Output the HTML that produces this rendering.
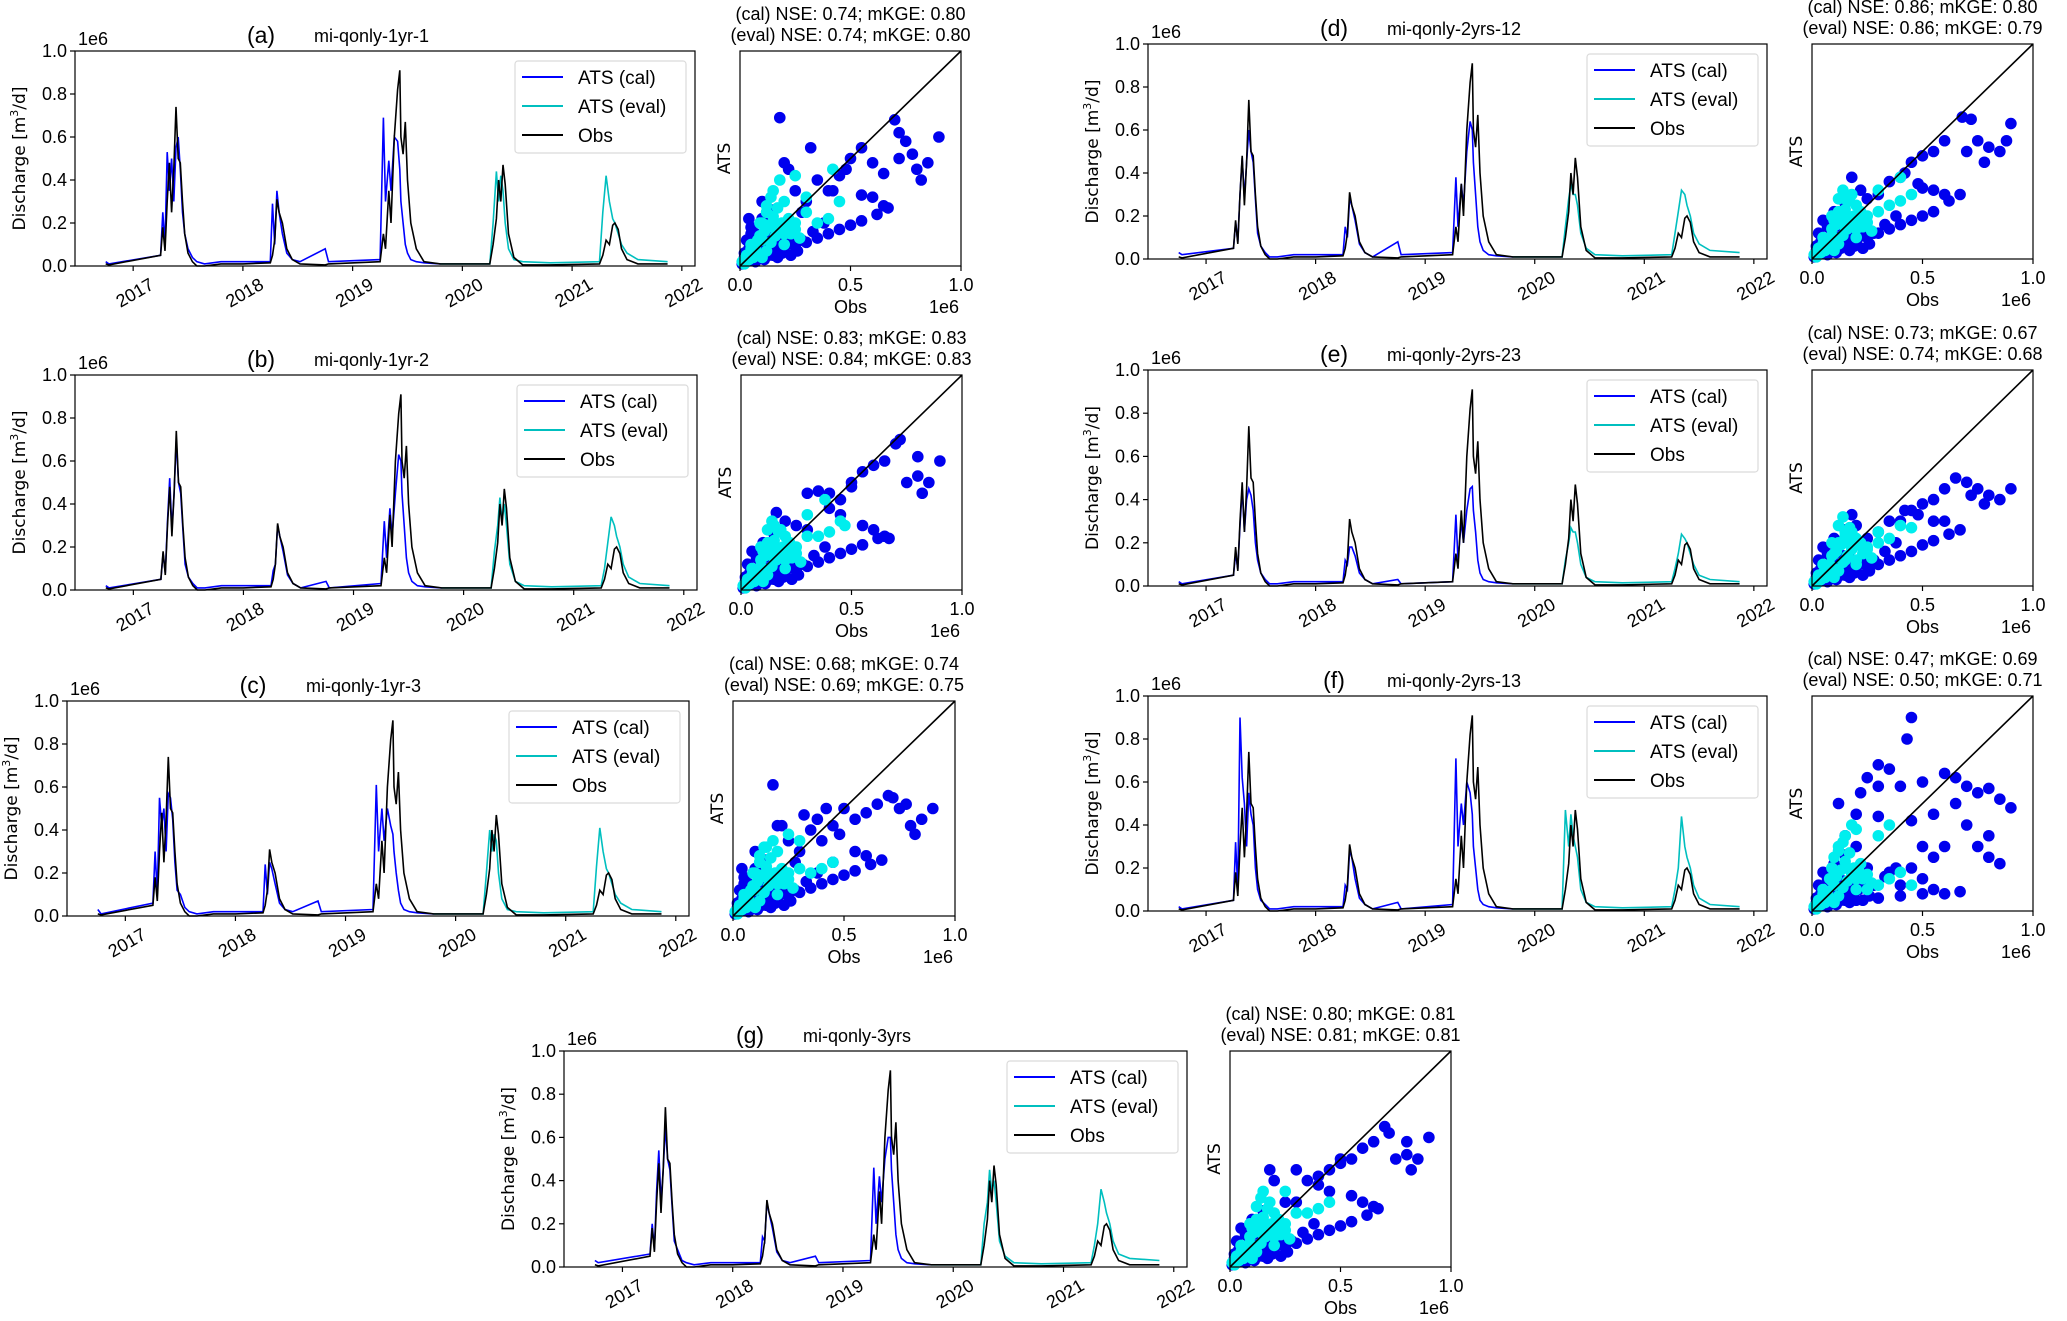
<!DOCTYPE html>
<html><head><meta charset="utf-8">
<style>
html,body{margin:0;padding:0;background:#fff;}
svg text{font-family:"Liberation Sans Narrow","Liberation Sans",sans-serif;}
.dv{font-family:"DejaVu Sans","Liberation Sans",sans-serif !important;}
</style></head>
<body>
<svg id="fig" xmlns="http://www.w3.org/2000/svg" width="2067" height="1316" viewBox="0 0 2067 1316"></svg>
<script>
// ---- shared time axis and observed series (x1e6 m3/d) ----
const years = [2017,2018,2019,2020,2021,2022];
const yTicks = [0.0,0.2,0.4,0.6,0.8,1.0];
const sTicks = [0.0,0.5,1.0];
const evalStart = 2019.8;
const T = [2016.75,2016.78,2017.25,2017.27,2017.29,2017.31,2017.33,2017.35,2017.37,2017.39,2017.41,2017.43,2017.45,2017.47,2017.50,2017.54,2017.58,2017.65,2017.8,2018.0,
2018.25,2018.27,2018.29,2018.31,2018.33,2018.36,2018.40,2018.45,2018.52,2018.75,2018.78,
2019.25,2019.28,2019.30,2019.33,2019.35,2019.38,2019.41,2019.43,2019.44,2019.46,2019.48,2019.50,2019.53,2019.58,2019.65,2019.8,
2020.25,2020.28,2020.31,2020.33,2020.35,2020.37,2020.39,2020.42,2020.47,2020.55,2020.8,
2021.25,2021.28,2021.31,2021.34,2021.37,2021.39,2021.42,2021.45,2021.5,2021.6,2021.87];
const obs = [.01,.005,.05,.18,.07,.3,.48,.25,.45,.74,.5,.48,.3,.15,.06,.02,.0,.0,.01,.01,
.015,.05,.12,.31,.25,.2,.08,.03,.01,.005,.01,
.02,.15,.08,.35,.2,.6,.82,.91,.6,.52,.67,.4,.2,.08,.02,.01,
.01,.1,.22,.4,.3,.47,.38,.15,.04,.005,.005,
.01,.05,.12,.1,.19,.2,.17,.08,.03,.01,.01];
// ---- simulated series per panel ----
const atsA = [.02,.01,.05,.25,.1,.53,.35,.5,.3,.55,.6,.45,.25,.15,.08,.04,.02,.01,.02,.02,
.02,.29,.1,.35,.25,.15,.06,.03,.02,.08,.02,
.03,.69,.3,.49,.35,.6,.58,.45,.3,.2,.1,.06,.03,.02,.015,.01,
.01,.2,.44,.3,.42,.35,.2,.08,.03,.02,.015,
.02,.25,.42,.3,.22,.2,.15,.1,.06,.03,.02];
const atsB = [.02,.01,.05,.17,.08,.32,.52,.28,.45,.7,.5,.45,.28,.12,.06,.03,.01,.01,.02,.02,
.02,.09,.12,.3,.25,.18,.07,.03,.01,.04,.01,
.03,.32,.15,.38,.25,.45,.63,.6,.45,.3,.15,.08,.04,.02,.015,.01,
.01,.18,.3,.43,.32,.4,.3,.12,.04,.02,.015,
.02,.1,.22,.34,.3,.25,.2,.12,.06,.03,.02];
const atsC = [.03,.01,.06,.3,.1,.55,.42,.5,.3,.57,.55,.45,.25,.12,.1,.04,.02,.01,.02,.02,
.02,.24,.1,.25,.22,.15,.06,.03,.02,.07,.02,
.03,.61,.3,.5,.35,.5,.42,.38,.3,.2,.12,.06,.03,.02,.015,.01,
.01,.2,.4,.3,.38,.35,.2,.08,.03,.02,.015,
.02,.23,.41,.3,.22,.2,.15,.1,.06,.03,.02];
const atsD = [.03,.02,.05,.17,.08,.3,.47,.28,.45,.6,.5,.45,.28,.12,.06,.03,.01,.01,.02,.02,
.02,.15,.1,.28,.25,.18,.07,.03,.01,.08,.02,
.03,.38,.15,.35,.25,.5,.64,.6,.45,.3,.15,.08,.04,.02,.015,.01,
.01,.15,.28,.35,.3,.3,.25,.12,.05,.02,.015,
.02,.12,.22,.32,.3,.25,.2,.12,.07,.04,.03];
const atsE = [.02,.01,.05,.15,.08,.28,.45,.25,.4,.45,.42,.35,.2,.12,.06,.03,.01,.01,.02,.02,
.02,.12,.1,.18,.18,.14,.06,.03,.01,.03,.01,
.02,.33,.12,.3,.2,.35,.45,.46,.35,.25,.12,.06,.03,.02,.015,.01,
.01,.12,.2,.27,.25,.25,.2,.1,.04,.02,.015,
.02,.08,.15,.24,.22,.2,.15,.1,.05,.03,.02];
const atsF = [.02,.01,.05,.32,.1,.9,.62,.5,.3,.55,.45,.4,.2,.1,.05,.03,.01,.01,.02,.02,
.02,.12,.1,.28,.25,.15,.06,.03,.01,.04,.01,
.03,.71,.3,.5,.4,.6,.55,.45,.3,.2,.1,.05,.03,.02,.015,.01,
.01,.47,.3,.45,.35,.3,.25,.1,.04,.02,.015,
.02,.1,.2,.44,.3,.25,.2,.12,.06,.03,.02];
const atsG = [.03,.02,.06,.2,.08,.35,.54,.3,.45,.65,.5,.45,.28,.12,.08,.03,.02,.01,.02,.02,
.02,.14,.12,.3,.25,.18,.07,.03,.02,.05,.02,
.03,.46,.2,.42,.3,.5,.6,.6,.45,.3,.15,.08,.04,.02,.015,.01,
.01,.2,.3,.45,.35,.4,.3,.12,.05,.02,.015,
.02,.1,.2,.36,.3,.25,.2,.12,.06,.04,.03];
// ---- scatter points [obs, ats] per panel (x1e6) ----
const lowCal = [[.01,.01],[.02,.04],[.03,.02],[.04,.08],[.05,.03],[.06,.06],[.07,.02],[.08,.05],[.09,.12],[.1,.08],[.11,.03],[.12,.1],[.13,.05],[.14,.14],[.16,.09],[.17,.04],[.18,.12],[.19,.06],[.21,.1],[.23,.05],[.24,.13],[.26,.07],[.28,.12],[.03,.12],[.05,.18],[.07,.15],[.1,.22],[.13,.2],[.15,.26],[.02,.06],[.33,.16],[.38,.2]];
const lowEv = [[.01,.02],[.02,.01],[.03,.05],[.04,.03],[.05,.1],[.06,.04],[.07,.09],[.08,.06],[.09,.14],[.1,.04],[.11,.16],[.12,.07],[.13,.19],[.14,.11],[.15,.23],[.16,.14],[.17,.27],[.18,.17],[.19,.2],[.2,.1],[.21,.19],[.23,.15],[.25,.17],[.27,.13],[.12,.28],[.14,.32],[.16,.2],[.09,.2]];
const calA = [[.02,.02],[.04,.06],[.06,.03],[.08,.1],[.1,.04],[.05,.15],[.12,.08],[.15,.05],[.2,.07],[.25,.09],[.3,.11],[.35,.13],[.4,.15],[.45,.17],[.5,.19],[.55,.21],[.62,.24],[.67,.27],[.55,.33],[.6,.32],[.65,.28],[.3,.3],[.4,.35],[.45,.42],[.5,.5],[.55,.55],[.7,.68],[.72,.62],[.75,.58],[.78,.52],[.8,.45],[.85,.48],[.9,.6],[.82,.4],[.72,.5],[.18,.69],[.2,.48],[.32,.55],[.22,.45],[.1,.3],[.04,.22],[.35,.4],[.42,.35],[.25,.35],[.28,.25],[.48,.45],[.6,.48],[.65,.43]];
const evA = [[.02,.03],[.05,.08],[.08,.12],[.1,.2],[.12,.25],[.15,.35],[.18,.4],[.2,.3],[.25,.42],[.15,.18],[.2,.15],[.25,.2],[.3,.25],[.35,.2],[.4,.22],[.45,.3],[.42,.45],[.3,.32],[.1,.12],[.22,.22],[.06,.05]];
const calB = [[.02,.02],[.04,.05],[.06,.03],[.08,.09],[.1,.05],[.12,.08],[.15,.05],[.2,.07],[.25,.09],[.3,.11],[.35,.13],[.4,.15],[.45,.17],[.5,.19],[.55,.21],[.62,.24],[.67,.24],[.55,.3],[.6,.28],[.65,.25],[.3,.28],[.4,.38],[.45,.42],[.5,.5],[.55,.55],[.6,.58],[.7,.68],[.72,.7],[.65,.6],[.8,.62],[.85,.5],[.9,.6],[.82,.45],[.75,.5],[.8,.53],[.16,.36],[.2,.32],[.3,.45],[.35,.46],[.1,.2],[.25,.3],[.4,.45],[.45,.35],[.5,.48]];
const evB = [[.02,.03],[.05,.07],[.08,.1],[.1,.18],[.12,.22],[.15,.3],[.18,.28],[.2,.25],[.3,.35],[.38,.42],[.15,.15],[.2,.14],[.25,.2],[.3,.25],[.35,.25],[.4,.27],[.45,.32],[.47,.3],[.1,.1],[.22,.22],[.06,.05]];
const calC = [[.02,.02],[.04,.06],[.06,.03],[.08,.1],[.1,.04],[.05,.15],[.12,.08],[.15,.05],[.2,.07],[.25,.09],[.3,.11],[.35,.13],[.4,.15],[.45,.17],[.5,.19],[.55,.21],[.62,.24],[.67,.26],[.55,.3],[.6,.28],[.45,.25],[.3,.3],[.4,.35],[.45,.42],[.5,.5],[.55,.45],[.7,.56],[.72,.55],[.75,.5],[.78,.52],[.8,.42],[.85,.45],[.9,.5],[.82,.38],[.6,.48],[.18,.61],[.2,.42],[.32,.47],[.22,.42],[.1,.3],[.04,.22],[.35,.4],[.42,.5],[.25,.35],[.28,.25],[.48,.38],[.65,.52],[.38,.45]];
const evC = [[.02,.03],[.05,.08],[.08,.12],[.1,.2],[.12,.25],[.15,.32],[.18,.35],[.2,.3],[.25,.38],[.15,.18],[.2,.15],[.25,.2],[.3,.22],[.35,.2],[.4,.22],[.45,.25],[.3,.35],[.1,.12],[.22,.22],[.06,.05]];
const calD = [[.02,.02],[.04,.05],[.06,.04],[.08,.09],[.1,.05],[.12,.08],[.15,.06],[.2,.08],[.25,.1],[.3,.12],[.35,.14],[.4,.16],[.45,.18],[.5,.2],[.55,.22],[.62,.27],[.67,.3],[.6,.3],[.55,.32],[.5,.33],[.3,.3],[.4,.38],[.45,.45],[.5,.48],[.55,.5],[.6,.55],[.68,.66],[.72,.65],[.75,.55],[.8,.52],[.85,.5],[.9,.63],[.78,.45],[.88,.55],[.7,.5],[.18,.38],[.22,.32],[.35,.36],[.1,.2],[.25,.28],[.42,.4],[.48,.35],[.15,.15]];
const evD = [[.02,.03],[.05,.07],[.08,.1],[.1,.18],[.12,.22],[.15,.28],[.18,.3],[.2,.25],[.3,.32],[.4,.38],[.15,.15],[.2,.14],[.25,.2],[.3,.22],[.35,.25],[.4,.27],[.45,.3],[.1,.1],[.22,.22],[.06,.05]];
const calE = [[.02,.02],[.04,.04],[.06,.03],[.08,.07],[.1,.05],[.12,.06],[.15,.05],[.2,.07],[.25,.09],[.3,.1],[.35,.12],[.4,.14],[.45,.16],[.5,.19],[.55,.21],[.62,.24],[.67,.26],[.6,.3],[.55,.3],[.3,.25],[.4,.3],[.45,.35],[.5,.38],[.55,.4],[.6,.45],[.65,.5],[.7,.48],[.75,.45],[.8,.42],[.85,.4],[.9,.45],[.78,.38],[.72,.42],[.18,.33],[.2,.28],[.35,.3],[.1,.15],[.25,.22],[.42,.35],[.48,.33],[.15,.12]];
const evE = [[.02,.03],[.05,.06],[.08,.1],[.1,.15],[.12,.2],[.15,.25],[.18,.25],[.2,.22],[.3,.25],[.4,.28],[.15,.12],[.2,.12],[.25,.18],[.3,.2],[.35,.22],[.45,.27],[.1,.08],[.22,.2],[.06,.05]];
const calF = [[.02,.02],[.04,.05],[.06,.03],[.08,.1],[.1,.05],[.05,.1],[.15,.05],[.2,.05],[.3,.06],[.4,.07],[.5,.08],[.6,.08],[.67,.09],[.55,.1],[.45,.9],[.43,.8],[.3,.68],[.35,.66],[.25,.62],[.22,.55],[.3,.58],[.4,.58],[.5,.6],[.6,.64],[.65,.62],[.7,.58],[.8,.57],[.85,.52],[.75,.55],[.65,.5],[.12,.5],[.2,.45],[.3,.44],[.45,.42],[.55,.45],[.7,.4],[.8,.35],[.9,.48],[.75,.3],[.8,.25],[.85,.22],[.5,.3],[.45,.2],[.55,.25],[.2,.3],[.15,.35],[.6,.3],[.4,.12],[.5,.15],[.35,.18],[.25,.2]];
const evF = [[.02,.03],[.05,.08],[.08,.15],[.1,.25],[.12,.3],[.15,.35],[.18,.4],[.2,.38],[.15,.2],[.2,.15],[.25,.1],[.3,.12],[.35,.15],[.4,.18],[.45,.12],[.35,.4],[.3,.35],[.1,.12],[.22,.22],[.06,.05]];
const calG = [[.02,.02],[.04,.05],[.06,.03],[.08,.09],[.1,.05],[.12,.08],[.15,.05],[.2,.07],[.25,.09],[.3,.11],[.35,.13],[.4,.15],[.45,.17],[.5,.19],[.55,.21],[.62,.24],[.67,.27],[.55,.33],[.6,.3],[.65,.28],[.3,.3],[.4,.38],[.45,.45],[.5,.5],[.55,.5],[.6,.55],[.7,.65],[.72,.62],[.65,.58],[.8,.58],[.85,.5],[.9,.6],[.82,.45],[.75,.5],[.8,.52],[.18,.45],[.2,.4],[.3,.45],[.35,.4],[.1,.2],[.25,.3],[.4,.42],[.45,.35],[.5,.48]];
const evG = [[.02,.03],[.05,.07],[.08,.1],[.1,.18],[.12,.22],[.15,.35],[.18,.3],[.2,.25],[.25,.35],[.15,.15],[.2,.14],[.25,.2],[.3,.25],[.35,.25],[.4,.27],[.45,.3],[.1,.1],[.22,.22],[.06,.05]];

const panels = [
 {id:'a',name:'mi-qonly-1yr-1',ts:[75,51,695,266],sc:[740,51,961,266],ats:atsA,cal:calA,ev:evA,s1:'(cal) NSE: 0.74; mKGE: 0.80',s2:'(eval) NSE: 0.74; mKGE: 0.80'},
 {id:'b',name:'mi-qonly-1yr-2',ts:[75,375,697,590],sc:[741,375,962,590],ats:atsB,cal:calB,ev:evB,s1:'(cal) NSE: 0.83; mKGE: 0.83',s2:'(eval) NSE: 0.84; mKGE: 0.83'},
 {id:'c',name:'mi-qonly-1yr-3',ts:[67,701,689,916],sc:[733,701,955,916],ats:atsC,cal:calC,ev:evC,s1:'(cal) NSE: 0.68; mKGE: 0.74',s2:'(eval) NSE: 0.69; mKGE: 0.75'},
 {id:'d',name:'mi-qonly-2yrs-12',ts:[1148,44,1767,259],sc:[1812,44,2033,259],ats:atsD,cal:calD,ev:evD,s1:'(cal) NSE: 0.86; mKGE: 0.80',s2:'(eval) NSE: 0.86; mKGE: 0.79'},
 {id:'e',name:'mi-qonly-2yrs-23',ts:[1148,370,1767,586],sc:[1812,370,2033,586],ats:atsE,cal:calE,ev:evE,s1:'(cal) NSE: 0.73; mKGE: 0.67',s2:'(eval) NSE: 0.74; mKGE: 0.68'},
 {id:'f',name:'mi-qonly-2yrs-13',ts:[1148,696,1767,911],sc:[1812,696,2033,911],ats:atsF,cal:calF,ev:evF,s1:'(cal) NSE: 0.47; mKGE: 0.69',s2:'(eval) NSE: 0.50; mKGE: 0.71'},
 {id:'g',name:'mi-qonly-3yrs',ts:[564,1051,1187,1267],sc:[1230,1051,1451,1267],ats:atsG,cal:calG,ev:evG,s1:'(cal) NSE: 0.80; mKGE: 0.81',s2:'(eval) NSE: 0.81; mKGE: 0.81'}
];

const NS='http://www.w3.org/2000/svg';
const fig=document.getElementById('fig');
function mk(tag,attrs,parent,txt){const e=document.createElementNS(NS,tag);for(const k in attrs)e.setAttribute(k,attrs[k]);if(txt!==undefined)e.textContent=txt;parent.appendChild(e);return e;}

panels.forEach(p=>{
  const g=mk('g',{},fig);
  
  
  const [L,Tp,R,B]=p.ts;
  const yrPx=(R-L)/(2022.12-2016.47);
  const xs=t=>L+(t-2016.47)*yrPx;
  const ys=v=>B-v*(B-Tp);
  let cal='',ev='',ob='';
  T.forEach((t,i)=>{
    const pt=xs(t).toFixed(1)+','+ys(p.ats[i]).toFixed(1)+' ';
    if(t<=evalStart) cal+=pt;
    if(t>=evalStart) ev+=pt;
    ob+=xs(t).toFixed(1)+','+ys(obs[i]).toFixed(1)+' ';
  });
  const l1=mk('polyline',{points:cal,fill:'none',stroke:'#0000ff','stroke-width':1.6},g);
  
  
  const l2=mk('polyline',{points:ev,fill:'none',stroke:'#00bfbf','stroke-width':1.6},g);
  
  
  const l3=mk('polyline',{points:ob,fill:'none',stroke:'#000','stroke-width':1.6},g);
  
  
  const fr=mk('rect',{x:L,y:Tp,width:R-L,height:B-Tp,fill:'none',stroke:'#000','stroke-width':1.2},g);
  
  
  yTicks.forEach(v=>{
    mk('line',{x1:L-5,x2:L,y1:ys(v),y2:ys(v),stroke:'#000','stroke-width':1.2},g);
    const tl=mk('text',{x:L-8,y:ys(v)+6,'font-size':18,'text-anchor':'end'},g,v.toFixed(1));
    
    
  });
  years.forEach(yr=>{
    const x=xs(yr);
    mk('line',{x1:x,x2:x,y1:B,y2:B+5,stroke:'#000','stroke-width':1.2},g);
    const tl=mk('text',{transform:`translate(${x+22},${B+22}) rotate(-30)`,'font-size':18,'text-anchor':'end'},g,String(yr));
    
    
  });
  const e6=mk('text',{x:L+3,y:Tp-6,'font-size':18},g,'1e6');
  
  
  const yl=mk('text',{transform:`translate(${L-50},${(Tp+B)/2}) rotate(-90)`,'font-size':17,'text-anchor':'middle',class:'dv'},g);
  yl.innerHTML='Discharge [m<tspan font-size="11" dy="-7">3</tspan><tspan dy="7">/d]</tspan>';
  
  
  const tt=mk('text',{x:L+186,y:Tp-8,'font-size':23,'text-anchor':'middle'},g,'('+p.id+')');
  
  
  const nm=mk('text',{x:L+239,y:Tp-9,'font-size':18},g,p.name);
  
  
  const lx=R-180, ly=Tp+10;
  const lg=mk('g',{},g);
  
  
  mk('rect',{x:lx,y:ly,width:171,height:92,rx:3,fill:'#fff',stroke:'#d8d8d8','stroke-width':1.2,opacity:0.9},lg);
  [['ATS (cal)','#0000ff'],['ATS (eval)','#00bfbf'],['Obs','#000']].forEach((en,i)=>{
    const yy=ly+16+i*29;
    mk('line',{x1:lx+7,x2:lx+48,y1:yy,y2:yy,stroke:en[1],'stroke-width':2},lg);
    const t=mk('text',{x:lx+63,y:yy+7,'font-size':19},lg,en[0]);
    
    
  });
  const [sL,sT,sR,sB]=p.sc;
  const sx=v=>sL+v*(sR-sL), sy=v=>sB-v*(sB-sT);
  const sg=mk('g',{},g);
  
  
  lowCal.concat(p.cal).forEach(d=>{
    const c=mk('circle',{cx:sx(d[0]),cy:sy(d[1]),r:5.8,fill:'#0000ee'},sg);
    
    
  });
  lowEv.concat(p.ev).forEach(d=>{
    const c=mk('circle',{cx:sx(d[0]),cy:sy(d[1]),r:5.8,fill:'#00eeee'},sg);
    
    
  });
  mk('line',{x1:sx(0),y1:sy(0),x2:sx(1),y2:sy(1),stroke:'#000','stroke-width':1.6},sg);
  mk('rect',{x:sL,y:sT,width:sR-sL,height:sB-sT,fill:'none',stroke:'#000','stroke-width':1.2},sg);
  sTicks.forEach(v=>{
    mk('line',{x1:sx(v),x2:sx(v),y1:sB,y2:sB+5,stroke:'#000','stroke-width':1.2},sg);
    const t=mk('text',{x:sx(v),y:sB+25,'font-size':18,'text-anchor':'middle'},sg,v.toFixed(1));
    
    
  });
  const ox=mk('text',{x:(sL+sR)/2,y:sB+47,'font-size':18,'text-anchor':'middle'},sg,'Obs');
  
  
  const oe=mk('text',{x:sR-17,y:sB+47,'font-size':18,'text-anchor':'middle'},sg,'1e6');
  
  
  const ay=mk('text',{transform:`translate(${sL-10},${(sT+sB)/2}) rotate(-90)`,'font-size':17,'text-anchor':'middle',class:'dv'},sg,'ATS');
  
  
  const st1=mk('text',{x:(sL+sR)/2,y:sT-31,'font-size':18,'text-anchor':'middle'},sg,p.s1);
  
  
  const st2=mk('text',{x:(sL+sR)/2,y:sT-10,'font-size':18,'text-anchor':'middle'},sg,p.s2);
  
  
});
</script>
</body></html>
